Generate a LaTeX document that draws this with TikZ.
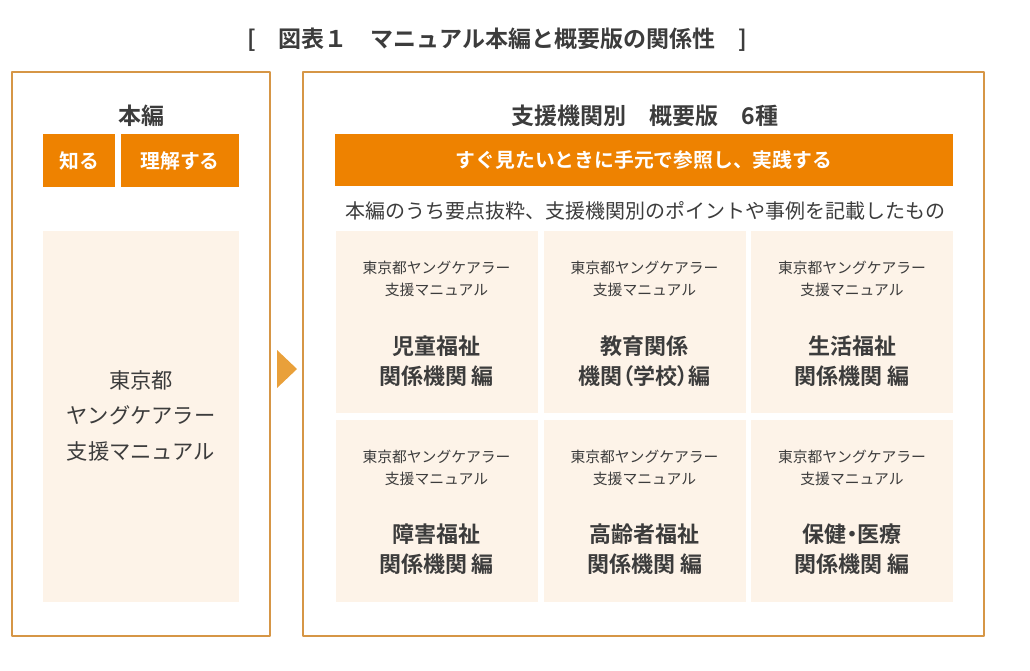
\documentclass[tikz,border=0pt]{standalone}
\usepackage{fontspec}
\setmainfont{Noto Sans CJK JP}[BoldFont={Noto Sans CJK JP Bold}]
\newfontfamily\proportional{Noto Sans CJK JP}[RawFeature=+palt,BoldFont={Noto Sans CJK JP Bold}]
\usepackage{xcolor}
\definecolor{inkgray}{RGB}{60,60,60}
\definecolor{deeporange}{RGB}{238,130,0}
\definecolor{framebrown}{RGB}{214,150,70}
\definecolor{cream}{RGB}{253,243,232}
\definecolor{pointer}{RGB}{233,160,58}
\tikzset{
  frame/.style={draw=framebrown,line width=1.1pt},
  orangebar/.style={fill=deeporange,text=white,font=\bfseries\fontsize{19.8}{22}\selectfont,inner sep=0pt},
  creambox/.style={fill=cream,inner sep=0pt},
  smalltext/.style={text=inkgray,font=\fontsize{14.8}{22}\selectfont,align=center},
  bigtext/.style={text=inkgray,font=\proportional\bfseries\fontsize{22}{30}\selectfont,align=center},
  headtext/.style={text=inkgray,font=\bfseries\fontsize{23}{26}\selectfont}
}
\begin{document}
\begin{tikzpicture}[x=1pt,y=-1pt,line join=round]
  \useasboundingbox (0,0) rectangle (1030,670);
  % title
  \node[headtext] (title) at (497,40) {[\quad 図表１\quad マニュアル本編と概要版の関係性\quad ]};
  % main manual on the left
  \begin{scope}
    \draw[frame] (12,72) rectangle (270,636);
    \node[headtext] (honpen) at (141,116) {本編};
    \node[orangebar,minimum width=72pt,minimum height=53pt] (shiru) at (79,160.5) {知る};
    \node[orangebar,minimum width=118pt,minimum height=53pt] (rikai) at (180,160.5) {理解する};
    \node[creambox,minimum width=196pt,minimum height=371pt] (manual) at (141,416.5) {};
    \node[text=inkgray,font=\fontsize{21.3}{35.5}\selectfont,align=center] (manualtext) at ([yshift=1pt]manual.center) {東京都\\ヤングケアラー\\支援マニュアル};
  \end{scope}
  % pointer between the two frames
  \fill[pointer] (277,350) -- (297,369) -- (277,388) -- cycle;
  % six summary editions on the right
  \begin{scope}
    \draw[frame] (303,72) rectangle (984,636);
    \node[headtext] (gaiyou) at (645,116) {支援機関別\quad 概要版\quad 6種};
    \node[orangebar,minimum width=618pt,minimum height=52pt] (sanshou) at (644,160) {すぐ見たいときに手元で参照し、実践する};
    \node[text=inkgray,font=\fontsize{20}{22}\selectfont] (youten) at (645,211) {本編のうち要点抜粋、支援機関別のポイントや事例を記載したもの};
    \foreach \name/\cx/\cy/\la/\lb in {
        jidou/436.5/322/児童福祉/関係機関 編,
        kyouiku/644.5/322/教育関係/機関（学校）編,
        seikatsu/852/322/生活福祉/関係機関 編,
        shougai/436.5/510.5/障害福祉/関係機関 編,
        koureisha/644.5/510.5/高齢者福祉/関係機関 編,
        hoken/852/510.5/保健・医療/関係機関 編}{
      \node[creambox,minimum width=202pt,minimum height=182pt] (\name) at (\cx,\cy) {};
      \node[smalltext] (\name-sub) at (\cx,\cy-43) {東京都ヤングケアラー\\支援マニュアル};
      \node[bigtext] (\name-title) at (\cx,\cy+39) {\la\\\lb};
    }
  \end{scope}
\end{tikzpicture}
\end{document}
